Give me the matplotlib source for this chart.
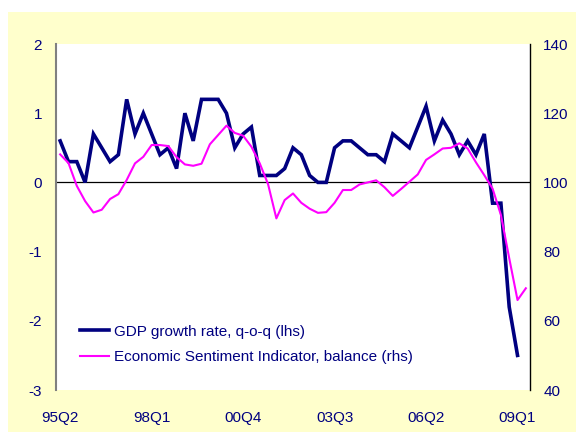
import matplotlib
matplotlib.use("Agg")
import matplotlib.pyplot as plt
from matplotlib.patches import Rectangle

plt.rcParams['font.family'] = ['Liberation Sans', 'DejaVu Sans']

# Categories: quarters 95Q2 .. 09Q2
quarters = [f"{y % 100:02d}Q{q}" for y in range(1995, 2010) for q in range(1, 5)]
quarters = quarters[quarters.index("95Q2"):quarters.index("09Q2") + 1]

gdp = [0.6, 0.3, 0.3, 0.0, 0.7, 0.5, 0.3, 0.4, 1.2, 0.7,
       1.0, 0.7, 0.4, 0.5, 0.2, 1.0, 0.6, 1.2, 1.2, 1.2,
       1.0, 0.5, 0.7, 0.8, 0.1, 0.1, 0.1, 0.2, 0.5, 0.4,
       0.1, 0.0, 0.0, 0.5, 0.6, 0.6, 0.5, 0.4, 0.4, 0.3,
       0.7, 0.6, 0.5, 0.8, 1.1, 0.6, 0.9, 0.7, 0.4, 0.6,
       0.4, 0.7, -0.3, -0.3, -1.8, -2.5]

esi = [108.1, 105.6, 99.0, 94.6, 91.3, 92.1, 95.2, 96.6, 100.7, 105.5,
       107.4, 110.8, 110.8, 110.5, 107.3, 105.2, 104.8, 105.4, 111.0, 113.7,
       116.4, 114.3, 113.5, 110.3, 105.5, 99.5, 89.6, 94.9, 96.8, 94.1,
       92.4, 91.2, 91.4, 94.1, 97.8, 97.8, 99.4, 100.0, 100.6, 98.6,
       96.1, 98.1, 100.2, 102.3, 106.5, 108.1, 109.8, 110.0, 111.3, 109.8,
       105.8, 102.1, 98.2, 90.6, 78.1, 66.0, 69.4]

tick_labels = ["95Q2", "98Q1", "00Q4", "03Q3", "06Q2", "09Q1"]
left_ticks = [-3, -2, -1, 0, 1, 2]
right_ticks = [40, 60, 80, 100, 120, 140]

navy = "#000080"
fs = 11
fig = plt.figure(figsize=(5.76, 4.32), dpi=100, facecolor="white")
fig.patches.append(Rectangle((8 / 576, 0), 1 - 8 / 576, 420 / 432,
                             transform=fig.transFigure, facecolor="#FFFFCC",
                             edgecolor="none", zorder=-10))

ax1 = fig.add_axes([56 / 576, 42 / 432, 474 / 576, 346 / 432])
ax1.set_facecolor("white")
ax2 = ax1.twinx()
ax2.patch.set_visible(False)

x_gdp = list(range(len(gdp)))
x_esi = list(range(len(esi)))

ax1.axhline(0, color="black", lw=0.9, zorder=1)
l1, = ax1.plot(x_gdp, gdp, color=navy, lw=2.6, solid_joinstyle="miter",
               label="GDP growth rate, q-o-q (lhs)", zorder=3)
l2, = ax2.plot(x_esi, esi, color="#FF00FF", lw=1.5,
               label="Economic Sentiment Indicator, balance (rhs)", zorder=3)

ax1.set_xlim(-0.5, len(quarters) - 0.5)
ax1.set_ylim(-3, 2)
ax2.set_ylim(40, 140)
ax1.set_yticks(left_ticks)
ax1.set_yticklabels([str(t) for t in left_ticks])
ax2.set_yticks(right_ticks)
ax2.set_yticklabels([str(t) for t in right_ticks])
ax1.set_xticks([quarters.index(t) for t in tick_labels])
ax1.set_xticklabels(tick_labels)

for ax in (ax1, ax2):
    for s in ("top", "bottom"):
        ax.spines[s].set_visible(False)
    ax.tick_params(length=0, labelsize=fs, colors=navy)
ax1.spines["left"].set_color("#808080")
ax1.spines["left"].set_linewidth(1.5)
ax1.spines["right"].set_visible(False)
ax2.spines["left"].set_visible(False)
ax2.spines["right"].set_color("black")
ax2.spines["right"].set_linewidth(1.0)
ax1.tick_params(axis="y", pad=10)
ax1.tick_params(axis="x", pad=15)
ax2.tick_params(axis="y", pad=9.5)

leg = ax2.legend([l1, l2], [l1.get_label(), l2.get_label()],
                 loc="lower left", bbox_to_anchor=(0.05, 0.075),
                 frameon=False, fontsize=fs, handlelength=1.95,
                 handletextpad=0.3, labelspacing=0.75, borderpad=0,
                 borderaxespad=0)
for t in leg.get_texts():
    t.set_color(navy)

fig.savefig("out.png", dpi=100, facecolor=fig.get_facecolor())
